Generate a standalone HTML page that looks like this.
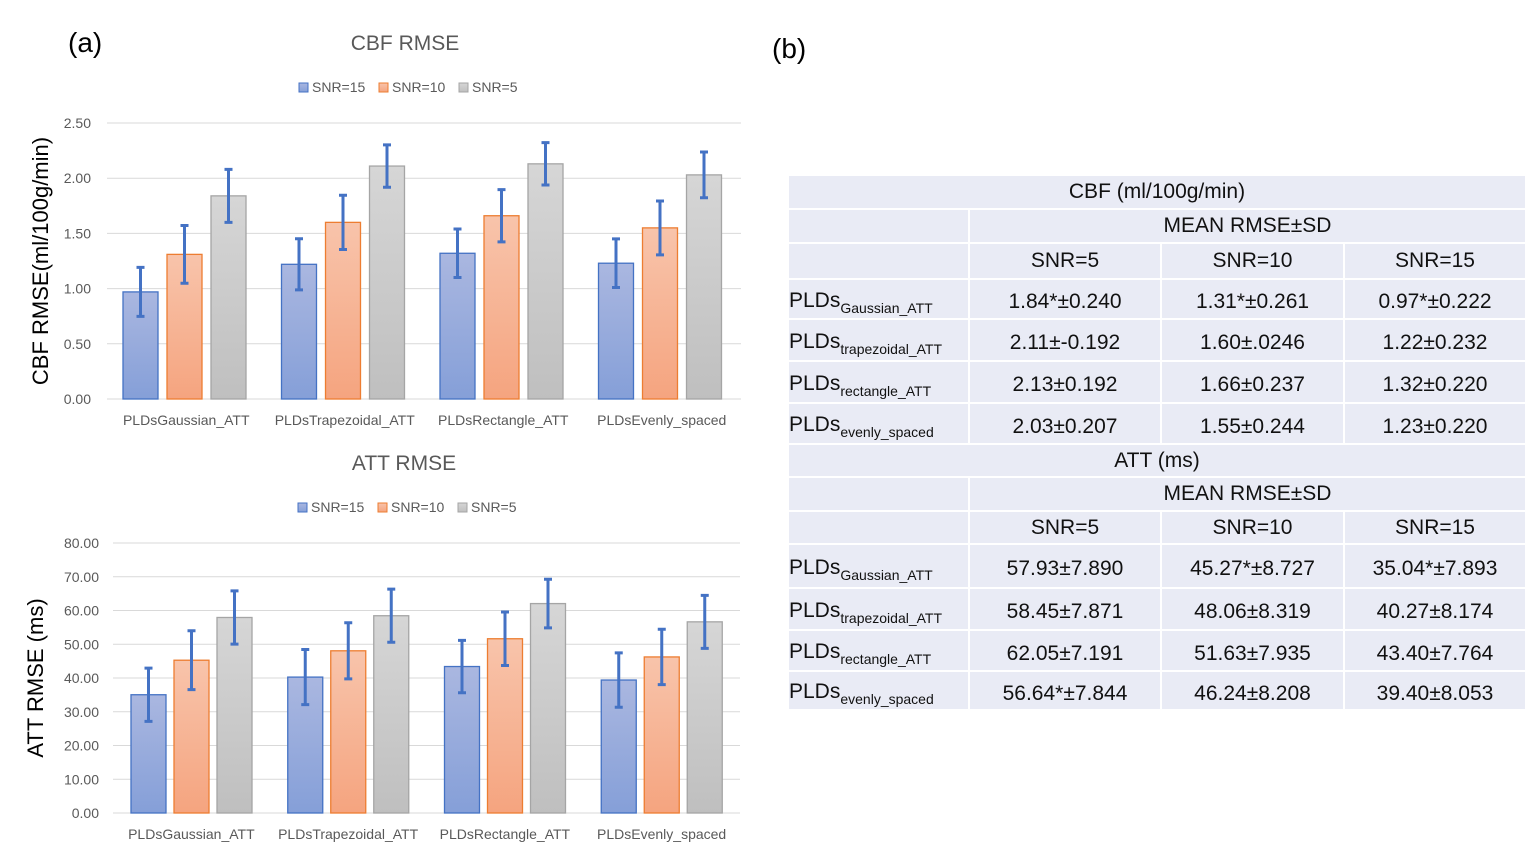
<!DOCTYPE html>
<html><head><meta charset="utf-8">
<style>
body{margin:0;background:#fff;width:1530px;height:847px;overflow:hidden;font-family:"Liberation Sans",sans-serif;}
svg{position:absolute;left:0;top:0}
#tbl{position:absolute;left:789px;top:176px;width:736px;}
.c{position:absolute;background:#e9ebf5;color:#111;font-size:21px;display:flex;align-items:center;justify-content:center;}
.l{justify-content:flex-start;}
.c span{display:inline-block;padding-top:6px}
sub{font-size:14px;vertical-align:-6px}
</style></head><body>
<svg id="chart" width="1530" height="847">
<defs>
<linearGradient id="gb" x1="0" y1="0" x2="0" y2="1"><stop offset="0" stop-color="#aab7e0"/><stop offset="1" stop-color="#859fd8"/></linearGradient>
<linearGradient id="go" x1="0" y1="0" x2="0" y2="1"><stop offset="0" stop-color="#f8c4ab"/><stop offset="1" stop-color="#f5a47f"/></linearGradient>
<linearGradient id="gg" x1="0" y1="0" x2="0" y2="1"><stop offset="0" stop-color="#d6d6d6"/><stop offset="1" stop-color="#bfbfbf"/></linearGradient>
</defs>
<text x="68" y="52" font-size="28" fill="#000">(a)</text>
<text x="772" y="58" font-size="28" fill="#000">(b)</text>
</svg>
<div id="tbl"></div>
<script>
const categories=["PLDsGaussian_ATT","PLDsTrapezoidal_ATT","PLDsRectangle_ATT","PLDsEvenly_spaced"];
const seriesNames=["SNR=15","SNR=10","SNR=5"];
const cbf15=[0.97,1.22,1.32,1.23], cbf10=[1.31,1.60,1.66,1.55], cbf5=[1.84,2.11,2.13,2.03];
const cbfSd15=[0.222,0.232,0.220,0.220], cbfSd10=[0.261,0.246,0.237,0.244], cbfSd5=[0.240,0.192,0.192,0.207];
const att15=[35.04,40.27,43.40,39.40], att10=[45.27,48.06,51.63,46.24], att5=[57.93,58.45,62.05,56.64];
const attSd15=[7.893,8.174,7.764,8.053], attSd10=[8.727,8.319,7.935,8.208], attSd5=[7.890,7.871,7.191,7.844];
const cbfTicks=["0.00","0.50","1.00","1.50","2.00","2.50"];
const attTicks=["0.00","10.00","20.00","30.00","40.00","50.00","60.00","70.00","80.00"];

const svg=document.getElementById('chart');
const NS="http://www.w3.org/2000/svg";
function mk(t,a){const e=document.createElementNS(NS,t);for(const k in a)e.setAttribute(k,a[k]);svg.appendChild(e);return e;}
const fills=["url(#gb)","url(#go)","url(#gg)"], strokes=["#4472c4","#ed7d31","#a5a5a5"];

function chart(o){
  const y=v=>o.y0-(v/o.max)*(o.y0-o.y1);
  o.ticks.forEach(t=>{
    const v=parseFloat(t);
    const g=mk('line',{x1:o.x0,x2:o.x1,y1:y(v),y2:y(v),stroke:'#d9d9d9','stroke-width':1});
    
    
    const tx=mk('text',{x:o.tickX,y:y(v)+5,'font-size':14,fill:'#595959','text-anchor':'end'});
    tx.textContent=t;
    
    
  });
  const gw=(o.x1-o.x0)/categories.length;
  categories.forEach((c,i)=>{
    const gx=o.x0+gw*i;
    o.series.forEach((s,j)=>{
      const bx=gx+o.off+j*o.step;
      const r=mk('rect',{x:bx,y:y(s[i]),width:o.bw,height:o.y0-y(s[i]),fill:fills[j],stroke:strokes[j],'stroke-width':1.3});
      
      
      const cx=bx+o.bw/2, hi=y(s[i]+o.sds[j][i]), lo=y(s[i]-o.sds[j][i]);
      const e=mk('path',{d:`M${cx},${hi}V${lo}M${cx-4},${hi}H${cx+4}M${cx-4},${lo}H${cx+4}`,stroke:'#4472c4','stroke-width':3,fill:'none'});
      
      
    });
    const lt=mk('text',{x:gx+gw/2,y:o.y0+26,'font-size':14,fill:'#595959','text-anchor':'middle'});
    lt.textContent=c;
    
    
  });
  const t=mk('text',{x:o.tx,y:o.ty,'font-size':21,fill:'#595959','text-anchor':'middle'});
  t.textContent=o.title;
  
  
  const yt=mk('text',{transform:`translate(${o.yx},${(o.y0+o.y1)/2}) rotate(-90)`,'font-size':22,fill:'#000','text-anchor':'middle'});
  yt.textContent=o.ytitle;
  
  
  let lx=o.lx;
  seriesNames.forEach((n,j)=>{
    const r=mk('rect',{x:lx,y:o.ly-9,width:9,height:9,fill:fills[j],stroke:strokes[j]});
    
    
    const tx=mk('text',{x:lx+13,y:o.ly,'font-size':14,fill:'#595959'});
    tx.textContent=n;
    
    
    lx+=80;
  });
}
chart({x0:107,x1:741,y0:399,y1:123,max:2.5,ticks:cbfTicks,tickX:91,off:16,step:44,bw:35,series:[cbf15,cbf10,cbf5],sds:[cbfSd15,cbfSd10,cbfSd5],title:"CBF RMSE",tx:405,ty:50,ytitle:"CBF RMSE(ml/100g/min)",yx:48,lx:299,ly:92});
chart({x0:113,x1:740,y0:813,y1:543,max:80,ticks:attTicks,tickX:99,off:18,step:43,bw:35,series:[att15,att10,att5],sds:[attSd15,attSd10,attSd5],title:"ATT RMSE",tx:404,ty:470,ytitle:"ATT RMSE (ms)",yx:43,lx:298,ly:512});

const tbl=document.getElementById('tbl');
const cols=[0,181,373,556,736];
function cell(x0,x1,y0,y1,html,cls,name){
  const d=document.createElement('div');
  d.className='c'+(cls?' '+cls:'');
  d.style.left=x0+'px';d.style.width=(x1-x0)+'px';d.style.top=(y0-176)+'px';d.style.height=(y1-y0)+'px';
  d.innerHTML=html;
  
  
  tbl.appendChild(d);
}
const rowLabels=['<span>PLDs<sub>Gaussian_ATT</sub></span>','<span>PLDs<sub>trapezoidal_ATT</sub></span>','<span>PLDs<sub>rectangle_ATT</sub></span>','<span>PLDs<sub>evenly_spaced</sub></span>'];
const cbfRows=[["1.84*±0.240","1.31*±0.261","0.97*±0.222"],["2.11±-0.192","1.60±.0246","1.22±0.232"],["2.13±0.192","1.66±0.237","1.32±0.220"],["2.03±0.207","1.55±0.244","1.23±0.220"]];
const attRows=[["57.93±7.890","45.27*±8.727","35.04*±7.893"],["58.45±7.871","48.06±8.319","40.27±8.174"],["62.05±7.191","51.63±7.935","43.40±7.764"],["56.64*±7.844","46.24±8.208","39.40±8.053"]];
function block(title,ys,rows){
  cell(0,736,ys[0],ys[1],title,'','table-section-title');
  cell(0,179,ys[1]+2,ys[2],'','','table-blank');
  cell(181,736,ys[1]+2,ys[2],'MEAN RMSE±SD','','table-header');
  cell(0,179,ys[2]+2,ys[3],'','','table-blank');
  ['SNR=5','SNR=10','SNR=15'].forEach((s,k)=>cell(cols[k+1],cols[k+2]-(k<2?2:0),ys[2]+2,ys[3],s,'','table-col-header'));
  rows.forEach((r,i)=>{
    const a=ys[3+i]+2,b=ys[4+i];
    cell(0,179,a,b,rowLabels[i],'l','table-row-label');
    r.forEach((v,k)=>cell(cols[k+1],cols[k+2]-(k<2?2:0),a,b,'<span>'+v+'</span>','','table-cell'));
  });
}
block('CBF (ml/100g/min)',[176,208,242,278,318,360,402,443],cbfRows);
block('ATT (ms)',[445,476,510,543,587,629,670,709],attRows);
</script>
</body></html>
